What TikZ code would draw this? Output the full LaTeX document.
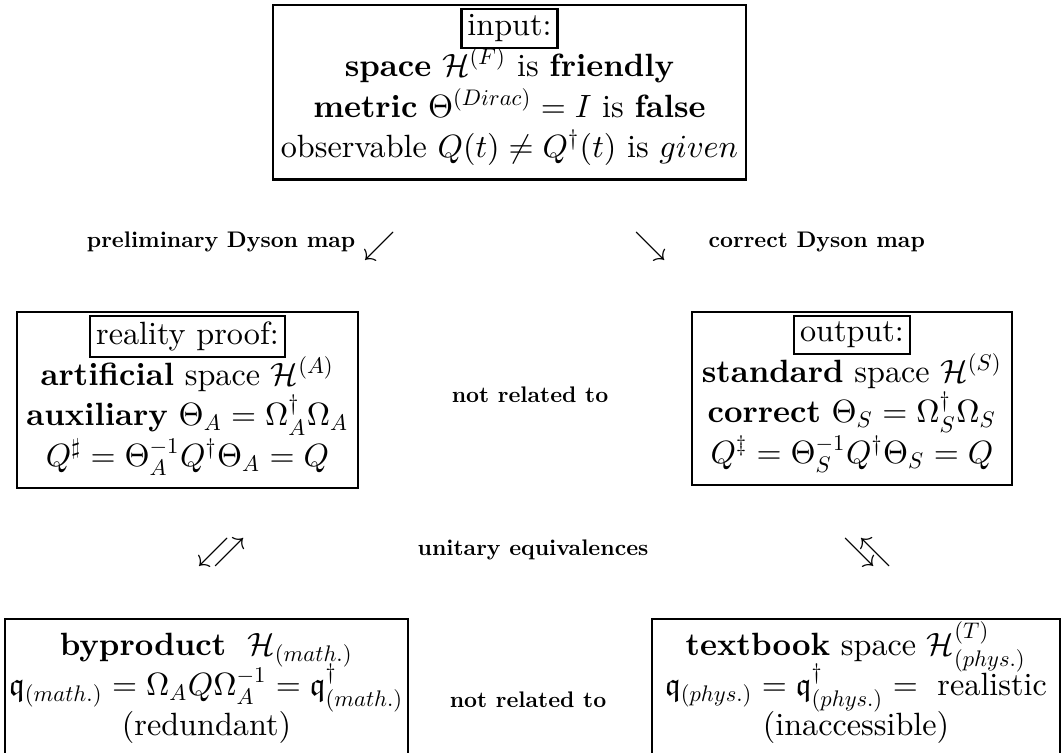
\documentclass[tikz,border=0pt]{standalone}
\DeclareFontShape{OML}{cmm}{m}{it}{<->cmmi10}{}
\DeclareFontShape{OMS}{cmsy}{m}{n}{<->cmsy10}{}
\DeclareFontShape{OT1}{cmr}{m}{n}{<->cmr10}{}
\DeclareFontFamily{U}{euf}{}
\DeclareFontShape{U}{euf}{m}{n}{<->eufm10}{}
\usepackage{amsmath,amssymb}
\usepackage{graphicx}
\setlength{\fboxsep}{1.5pt}
\setlength{\fboxrule}{0.7pt}
\newcommand{\taildepth}[1]{\rule[-#1]{0pt}{0pt}}
\newcommand{\headstrut}[1]{\rule{0pt}{#1}}
\newcommand{\lbltext}[1]{\scalebox{0.7}{\bfseries #1}}
\newcommand{\tightrows}{\fontsize{10}{12.6}\selectfont\lineskiplimit=-20pt\relax}
\newcommand{\lowrows}{\fontsize{10}{12.4}\selectfont\lineskiplimit=-20pt\relax}
\begin{document}
\begin{tikzpicture}[x=0.3106pt,y=-0.3106pt,
  bigbox/.style={draw,line width=0.7pt,align=center,inner xsep=1pt,inner ysep=0.8pt,
    anchor=north,font=\tightrows},
  lowbox/.style={bigbox,font=\lowrows},
  lbl/.style={inner sep=0pt},
  arrsym/.style={inner sep=0pt}]
\useasboundingbox (0,0) rectangle (1062,753);

\node[bigbox,minimum width=146.9pt] (in) at (509.5,4)
  {\fbox{input:}\\
   \textbf{space} $\mathcal{H}^{(F)}$ is \textbf{friendly}\\
   \textbf{metric} $\Theta^{(Dirac)}=I$ is \textbf{false}\\
   observable $Q(t)\neq Q^{\dagger}(t)$ is $given$\taildepth{6pt}};

\node[lbl,anchor=east] (pre) at (356,242) {\lbltext{preliminary Dyson map}};
\node[arrsym] (a1) at (380,246) {$\swarrow$};
\node[arrsym] (a2) at (651,246) {$\searrow$};
\node[lbl,anchor=west] (cor) at (708,242) {\lbltext{correct Dyson map}};

\node[bigbox,minimum width=105.9pt] (rp) at (187.5,311)
  {\fbox{reality proof:}\\
   \textbf{artificial} space $\mathcal{H}^{(A)}$\\
   \textbf{auxiliary} $\Theta_A=\Omega_A^{\dagger}\Omega_A$\\
   $Q^{\sharp}=\Theta_A^{-1}Q^{\dagger}\Theta_A=Q$\taildepth{6pt}};

\node[bigbox,minimum width=99.4pt] (out) at (852,311)
  {\fbox{output:}\\
   \textbf{standard} space $\mathcal{H}^{(S)}$\\
   \textbf{correct} $\Theta_S=\Omega_S^{\dagger}\Omega_S$\\
   $Q^{\ddagger}=\Theta_S^{-1}Q^{\dagger}\Theta_S=Q$\taildepth{6pt}};

\node[lbl] (nr1) at (530,395) {\lbltext{not related to}};

\node[arrsym] (p1) at (222,552) {$\swarrow\mkern-9mu\nearrow$};
\node[lbl] (ue) at (533,550) {\lbltext{unitary equivalences}};
\node[arrsym] (p2) at (868,552) {$\searrow\mkern-9mu\nwarrow$};

\node[lowbox,minimum width=125.2pt] (bp) at (206.5,618)
  {\headstrut{10.5pt}\textbf{byproduct}\ \ $\mathcal{H}_{(math.)}$\\
   $\mathfrak{q}_{(math.)}=\Omega_AQ\Omega_A^{-1}=\mathfrak{q}^{\dagger}_{(math.)}$\\
   (redundant)\taildepth{5.4pt}};

\node[lowbox,minimum width=126.7pt] (tb) at (856,618)
  {\headstrut{10.5pt}\textbf{textbook} space $\mathcal{H}^{(T)}_{(phys.)}$\\
   $\mathfrak{q}_{(phys.)}=\mathfrak{q}^{\dagger}_{(phys.)}=\ \mbox{realistic}$\\
   (inaccessible)\taildepth{5.4pt}};

\node[lbl] (nr2) at (528,700) {\lbltext{not related to}};
\end{tikzpicture}
\end{document}
